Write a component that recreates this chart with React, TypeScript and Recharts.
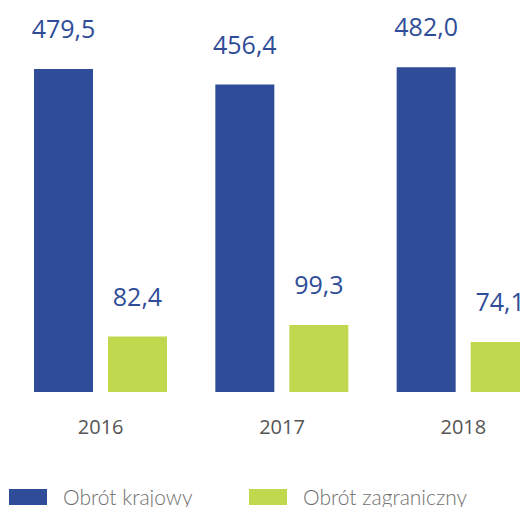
import { Bar, BarChart, LabelList, XAxis, YAxis } from 'recharts';

const YEARS = ['2016', '2017', '2018'];
const DOMESTIC = [479.5, 456.4, 482.0];
const FOREIGN = [82.4, 99.3, 74.1];

const BLUE = '#2f4c98';
const GREEN = '#bfd84e';

const data = YEARS.map((year, i) => ({
  year,
  domestic: DOMESTIC[i],
  foreign: FOREIGN[i],
}));

const fmt = (v: number) => v.toFixed(1).replace('.', ',');

const LEGEND = [
  { label: 'Obrót krajowy', color: BLUE, left: 9 },
  { label: 'Obrót zagraniczny', color: GREEN, left: 249 },
];

export default function App() {
  return (
    <div
      style={{
        position: 'absolute',
        left: 0,
        top: 0,
        width: 520,
        height: 507,
        overflow: 'hidden',
        background: '#fff',
      }}
    >
      <BarChart
        width={554}
        height={450}
        data={data}
        margin={{ top: 0, right: 0, bottom: 0, left: 10 }}
        barCategoryGap={24}
        barGap={15}
      >
        <YAxis hide domain={[0, 582]} />
        <XAxis
          dataKey="year"
          axisLine={false}
          tickLine={false}
          height={58}
          tickMargin={22}
          tick={{ fill: '#555', fontSize: 20, fontFamily: "'Open Sans', sans-serif" }}
        />
        <Bar dataKey="domestic" fill={BLUE} isAnimationActive={false}>
          <LabelList
            dataKey="domestic"
            position="top"
            offset={31}
            formatter={fmt}
            fill={BLUE}
            fontSize={25}
            fontFamily="'Open Sans', sans-serif"
          />
        </Bar>
        <Bar dataKey="foreign" fill={GREEN} isAnimationActive={false}>
          <LabelList
            dataKey="foreign"
            position="top"
            offset={31}
            formatter={fmt}
            fill={BLUE}
            fontSize={25}
            fontFamily="'Open Sans', sans-serif"
          />
        </Bar>
      </BarChart>
      {LEGEND.map((it) => (
        <div
          key={it.label}
          style={{
            position: 'absolute',
            left: it.left,
            top: 487,
            display: 'flex',
            alignItems: 'center',
            whiteSpace: 'nowrap',
          }}
        >
          <span
            style={{ width: 38, height: 16, background: it.color, display: 'inline-block' }}
          />
          <span
            style={{
              marginLeft: 16,
              fontFamily: 'Lato, sans-serif',
              fontWeight: 300,
              fontSize: 21,
              color: '#707070',
              lineHeight: '20px',
            }}
          >
            {it.label}
          </span>
        </div>
      ))}
    </div>
  );
}
